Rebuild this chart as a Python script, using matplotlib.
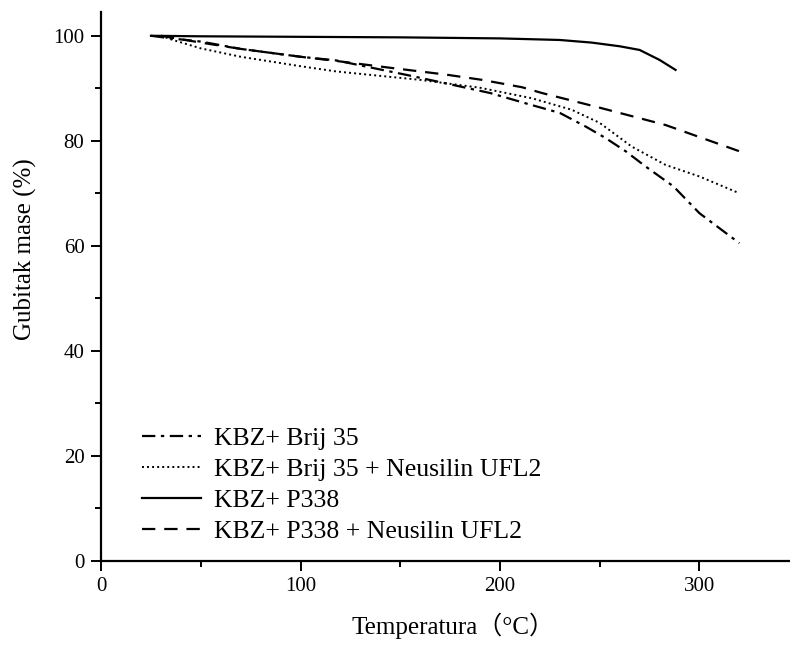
import numpy as np
import matplotlib.pyplot as plt
from matplotlib.ticker import MultipleLocator

# TGA curves
t_brij = [25, 35, 50, 70, 100, 118, 155, 195, 215, 230, 243, 253, 263, 273, 287, 300, 320]
m_brij = [100, 99.5, 98.9, 97.5, 96.0, 95.3, 92.4, 89.1, 86.9, 85.3, 82.7, 80.5, 78.0, 75.1, 71.3, 66.2, 60.5]

t_brij_neu = [30, 36, 50, 70, 100, 118, 160, 190, 216, 236, 250, 266, 283, 300, 320]
m_brij_neu = [100, 99.2, 97.6, 96.0, 94.2, 93.2, 91.6, 90.1, 88.1, 85.9, 83.4, 78.9, 75.4, 73.2, 70.0]

t_p338 = [25, 50, 100, 150, 200, 230, 246, 260, 270, 280, 288]
m_p338 = [100, 99.9, 99.8, 99.7, 99.5, 99.2, 98.7, 98.0, 97.3, 95.4, 93.5]

t_p338_neu = [30, 50, 70, 100, 118, 145, 173, 191, 211, 221, 250, 283, 320]
m_p338_neu = [100, 98.7, 97.5, 96.0, 95.2, 93.9, 92.6, 91.6, 90.2, 89.1, 86.3, 83.0, 78.0]

labels = ["KBZ+ Brij 35", "KBZ+ Brij 35 + Neusilin UFL2",
          "KBZ+ P338", "KBZ+ P338 + Neusilin UFL2"]

plt.rcParams['font.family'] = ['Liberation Serif', 'Noto Sans CJK SC']

fig = plt.figure(figsize=(7.9, 6.46), dpi=100)
ax = fig.add_axes([0.128, 0.132, 0.871, 0.85])

ax.plot(t_brij, m_brij, color='k', lw=1.6, dashes=[6, 2.5, 1.5, 2.5], label=labels[0])
ax.plot(t_brij_neu, m_brij_neu, color='k', lw=1.4, dashes=[1, 1.6], label=labels[1])
ax.plot(t_p338, m_p338, color='k', lw=1.6, label=labels[2])
ax.plot(t_p338_neu, m_p338_neu, color='k', lw=1.6, dashes=[6, 4], label=labels[3])

ax.set_xlim(0, 345)
ax.set_ylim(0, 104.6)
ax.xaxis.set_major_locator(MultipleLocator(100))
ax.xaxis.set_minor_locator(MultipleLocator(50))
ax.yaxis.set_major_locator(MultipleLocator(20))
ax.yaxis.set_minor_locator(MultipleLocator(10))

for s in ['top', 'right']:
    ax.spines[s].set_visible(False)
for s in ['left', 'bottom']:
    ax.spines[s].set_linewidth(1.6)

ax.tick_params(which='major', direction='out', length=7, width=1.4, labelsize=15, pad=5)
ax.tick_params(which='minor', direction='out', length=4, width=1.4)

ax.set_xlabel("Temperatura（°C）", fontsize=18)
ax.set_ylabel("Gubitak mase (%)", fontsize=18)
ax.xaxis.set_label_coords(0.512, -0.095)
ax.yaxis.set_label_coords(-0.093, 0.568)

ax.legend(loc='lower left', bbox_to_anchor=(0.033, 0.0), frameon=False, fontsize=18.5,
          handlelength=2.3, handletextpad=0.5, labelspacing=0.31, borderpad=0.2)

fig.savefig("out.png", dpi=100)
